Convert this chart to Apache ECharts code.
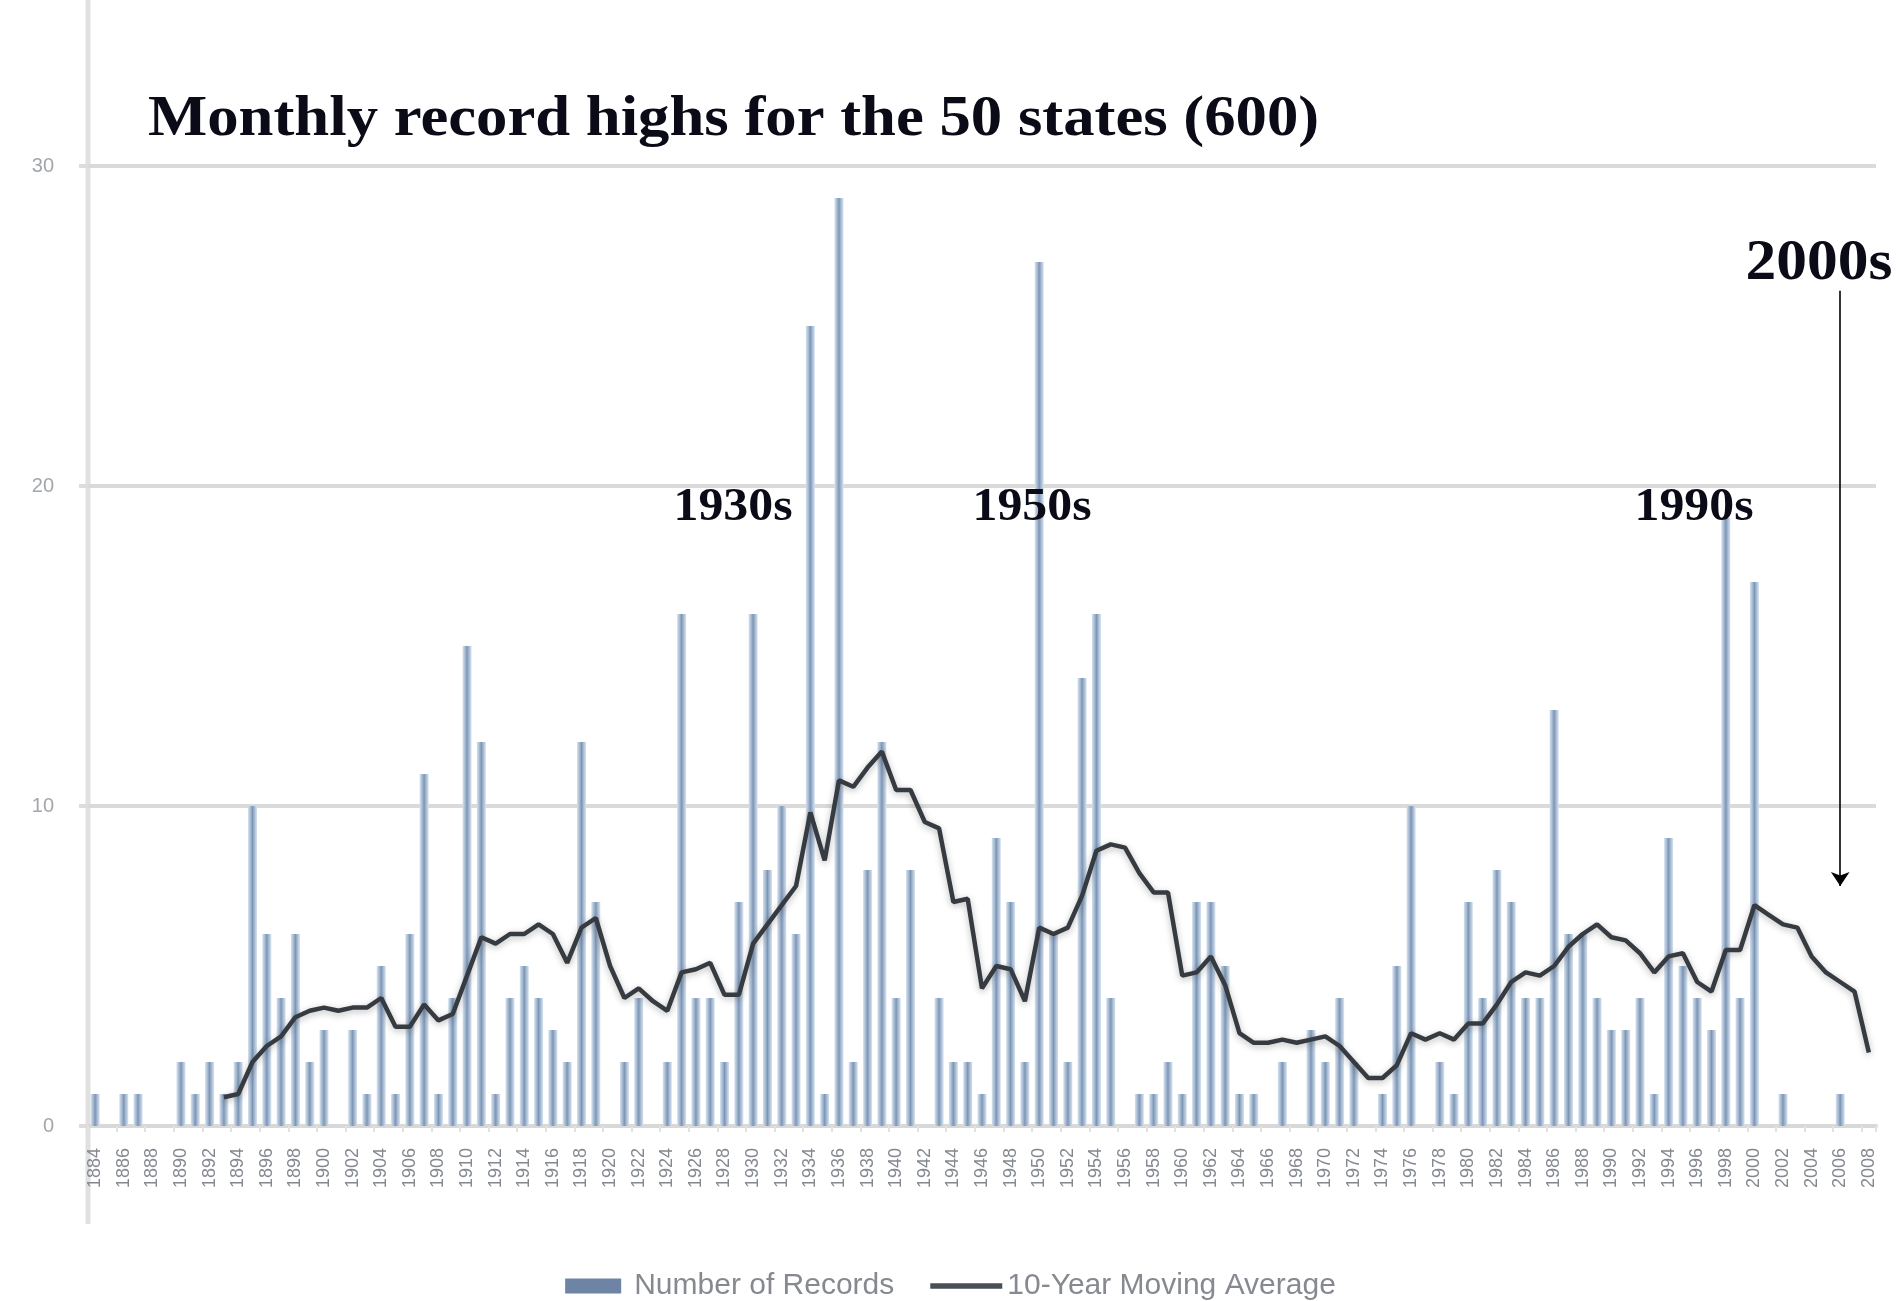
<!DOCTYPE html>
<html>
<head>
<meta charset="utf-8">
<script src="https://cdn.jsdelivr.net/npm/echarts@6/dist/echarts.min.js"></script>
<style>
html,body{margin:0;padding:0;background:#fff;}
#chart{width:1901px;height:1301px;}
</style>
</head>
<body>
<div id="chart"></div>
<script>
const years = ['1884','1885','1886','1887','1888','1889','1890','1891','1892','1893',
'1894','1895','1896','1897','1898','1899','1900','1901','1902','1903',
'1904','1905','1906','1907','1908','1909','1910','1911','1912','1913',
'1914','1915','1916','1917','1918','1919','1920','1921','1922','1923',
'1924','1925','1926','1927','1928','1929','1930','1931','1932','1933',
'1934','1935','1936','1937','1938','1939','1940','1941','1942','1943',
'1944','1945','1946','1947','1948','1949','1950','1951','1952','1953',
'1954','1955','1956','1957','1958','1959','1960','1961','1962','1963',
'1964','1965','1966','1967','1968','1969','1970','1971','1972','1973',
'1974','1975','1976','1977','1978','1979','1980','1981','1982','1983',
'1984','1985','1986','1987','1988','1989','1990','1991','1992','1993',
'1994','1995','1996','1997','1998','1999','2000','2001','2002','2003',
'2004','2005','2006','2007','2008'];

const records = [1,0,1,1,0,0,2,1,2,1,
2,10,6,4,6,2,3,0,3,1,
5,1,6,11,1,4,15,12,1,4,
5,4,3,2,12,7,0,2,4,0,
2,16,4,4,2,7,16,8,10,6,
25,1,29,2,8,12,4,8,0,4,
2,2,1,9,7,2,27,6,2,14,
16,4,0,1,1,2,1,7,7,5,
1,1,0,2,0,3,2,4,2,0,
1,5,10,0,2,1,7,4,8,7,
4,4,13,6,6,4,3,3,4,1,
9,5,4,3,19,4,17,0,1,0,
0,0,1,0,0];

const movingAvg = ['-','-','-','-','-','-','-','-','-',0.9,
1.0,2.0,2.5,2.8,3.4,3.6,3.7,3.6,3.7,3.7,
4.0,3.1,3.1,3.8,3.3,3.5,4.7,5.9,5.7,6.0,
6.0,6.3,6.0,5.1,6.2,6.5,5.0,4.0,4.3,3.9,
3.6,4.8,4.9,5.1,4.1,4.1,5.7,6.3,6.9,7.5,
9.8,8.3,10.8,10.6,11.2,11.7,10.5,10.5,9.5,9.3,
7.0,7.1,4.3,5.0,4.9,3.9,6.2,6.0,6.2,7.2,
8.6,8.8,8.7,7.9,7.3,7.3,4.7,4.8,5.3,4.4,
2.9,2.6,2.6,2.7,2.6,2.7,2.8,2.5,2.0,1.5,
1.5,1.9,2.9,2.7,2.9,2.7,3.2,3.2,3.8,4.5,
4.8,4.7,5.0,5.6,6.0,6.3,5.9,5.8,5.4,4.8,
5.3,5.4,4.5,4.2,5.5,5.5,6.9,6.6,6.3,6.2,
5.3,4.8,4.5,4.2,2.3];

const yTicks = [0, 10, 20, 30];
const decadeNotes = ['1930s', '1950s', '1990s'];
const arrowYear = '2006';
const titleText = 'Monthly record highs for the 50 states (600)';

const chart = echarts.init(document.getElementById('chart'), null, {renderer: 'canvas'});

const barGradient = {
  type: 'linear', x: 0, y: 0, x2: 1, y2: 0,
  colorStops: [
    {offset: 0, color: '#d6e3ef'},
    {offset: 0.3, color: '#a3b7cf'},
    {offset: 0.5, color: '#7d95b5'},
    {offset: 0.7, color: '#a3b7cf'},
    {offset: 1, color: '#d6e3ef'}
  ]
};

function note(text, x, y, size, sx) {
  return {type: 'text', x: x, y: y, scaleX: sx, z: 20,
    style: {text: text, fontFamily: 'Liberation Serif', fontWeight: 'bold', fontSize: size,
      fill: '#0b0b18', textAlign: 'center', textVerticalAlign: 'middle'}};
}

const option = {
  animation: false,
  backgroundColor: '#ffffff',
  grid: {left: 88, right: 25, top: 166, bottom: 175, containLabel: false},
  legend: {
    left: 'center', top: 1266,
    itemWidth: 72, itemHeight: 15, itemGap: 36,
    textStyle: {fontFamily: 'Liberation Sans', fontSize: 30, color: '#868a90'},
    data: [
      {name: 'Number of Records', icon: 'path://M0,0H56V15H0Z', itemStyle: {color: '#6d84a4'}},
      {name: '10-Year Moving Average', icon: 'path://M0,0H80V6H0Z', itemStyle: {color: '#4a4f56'}}
    ]
  },
  xAxis: {
    type: 'category',
    data: years,
    boundaryGap: true,
    axisLine: {show: true, lineStyle: {color: '#d8d8d8', width: 4}},
    axisTick: {show: true, length: 6, lineStyle: {color: '#e2e2e2', width: 2}},
    axisLabel: {
      rotate: 90, interval: 1, margin: 22,
      fontFamily: 'Liberation Sans', fontSize: 18, color: '#84888f'
    },
    splitLine: {show: false}
  },
  yAxis: {
    type: 'value',
    min: yTicks[0], max: yTicks[yTicks.length - 1], interval: 10,
    axisLine: {show: false},
    axisTick: {show: true, length: 9, lineStyle: {color: '#dcdcdc', width: 4}},
    axisLabel: {margin: 34, fontFamily: 'Liberation Sans', fontSize: 20, color: '#a3a6aa'},
    splitLine: {lineStyle: {color: '#dadada', width: 4}}
  },
  series: [
    {
      name: 'Number of Records',
      type: 'bar',
      data: records,
      barWidth: 9,
      itemStyle: {color: barGradient},
      markLine: {
        silent: true,
        symbol: ['none', 'arrow'],
        symbolSize: 14,
        lineStyle: {color: '#000000', width: 1.6, type: 'solid'},
        label: {show: false},
        data: [[{coord: [arrowYear, 26.1]}, {coord: [arrowYear, 7.5]}]]
      }
    },
    {
      name: '10-Year Moving Average',
      type: 'line',
      data: movingAvg,
      symbol: 'none',
      showSymbol: false,
      connectNulls: false,
      lineStyle: {color: '#363b42', width: 4.5, shadowColor: 'rgba(0,0,0,0.28)', shadowBlur: 7, shadowOffsetY: 2},
      itemStyle: {color: '#363b42'},
      z: 5
    }
  ],
  graphic: [
    {type: 'line', shape: {x1: 88, y1: 0, x2: 88, y2: 1224}, style: {stroke: '#e0e0e0', lineWidth: 5}, z: -1},
    {type: 'text', x: 148, y: 121, scaleX: 1.12, z: 20,
      style: {text: titleText, fontFamily: 'Liberation Serif', fontWeight: 'bold', fontSize: 56,
        fill: '#0b0b18', textAlign: 'left', textVerticalAlign: 'middle'}},
    note(decadeNotes[0], 733, 508, 47, 1.06),
    note(decadeNotes[1], 1032, 508, 47, 1.06),
    note(decadeNotes[2], 1694, 508, 47, 1.06),
    note('2000s', 1819, 264, 58, 1.06)
  ]
};
chart.setOption(option);
</script>
</body>
</html>
